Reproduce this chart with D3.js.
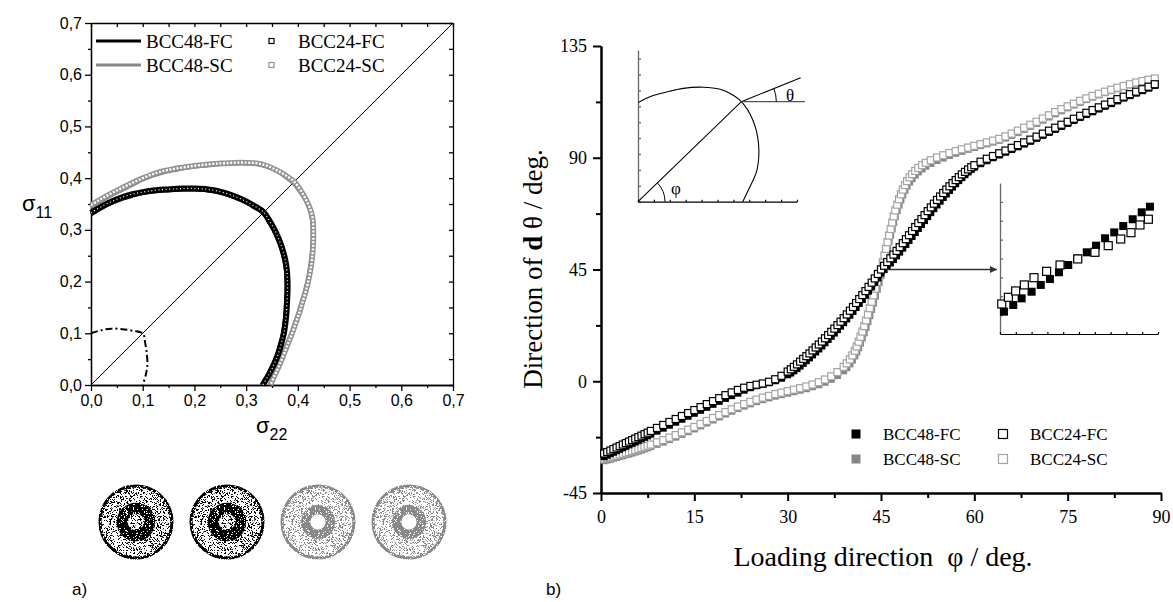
<!DOCTYPE html>
<html>
<head>
<meta charset="utf-8">
<script src="https://cdn.jsdelivr.net/npm/d3@7"></script>
<style>
  body { margin: 0; background: #fff; }
  svg { display: block; }
</style>
</head>
<body>
<svg id="fig" width="1173" height="602"></svg>
<script>
// ---------- panel a) yield curves, (sigma22, sigma11) ----------
const stressTicks = [0, 0.1, 0.2, 0.3, 0.4, 0.5, 0.6, 0.7];
const stressMinor = [0.05, 0.15, 0.25, 0.35, 0.45, 0.55, 0.65];

const bcc48FC = [[0,0.330],[0.02,0.342],[0.04,0.352],[0.06,0.360],[0.08,0.366],[0.10,0.371],[0.12,0.374],[0.14,0.376],[0.16,0.377],[0.18,0.378],[0.20,0.378],[0.22,0.377],[0.24,0.374],[0.26,0.369],[0.28,0.362],[0.30,0.353],[0.315,0.344],[0.333,0.333],[0.344,0.315],[0.353,0.300],[0.362,0.280],[0.369,0.260],[0.374,0.240],[0.377,0.220],[0.378,0.200],[0.378,0.180],[0.377,0.160],[0.376,0.140],[0.374,0.120],[0.371,0.100],[0.366,0.080],[0.360,0.060],[0.352,0.040],[0.342,0.020],[0.330,0]];
const bcc24FC = [[0,0.333],[0.02,0.345],[0.04,0.355],[0.06,0.363],[0.08,0.369],[0.10,0.373],[0.12,0.376],[0.14,0.378],[0.16,0.379],[0.18,0.380],[0.20,0.380],[0.22,0.379],[0.24,0.376],[0.26,0.371],[0.28,0.364],[0.30,0.355],[0.316,0.346],[0.334,0.334],[0.346,0.316],[0.355,0.300],[0.364,0.280],[0.371,0.260],[0.376,0.240],[0.379,0.220],[0.380,0.200],[0.380,0.180],[0.379,0.160],[0.378,0.140],[0.376,0.120],[0.373,0.100],[0.368,0.080],[0.362,0.060],[0.354,0.040],[0.344,0.020],[0.332,0]];
const bcc48SC = [[0,0.343],[0.02,0.355],[0.04,0.366],[0.06,0.376],[0.08,0.386],[0.10,0.396],[0.12,0.404],[0.14,0.410],[0.16,0.414],[0.18,0.418],[0.20,0.421],[0.22,0.423],[0.24,0.425],[0.26,0.426],[0.28,0.427],[0.30,0.427],[0.32,0.426],[0.34,0.421],[0.36,0.412],[0.375,0.402],[0.39,0.39],[0.402,0.375],[0.412,0.36],[0.421,0.34],[0.426,0.32],[0.427,0.30],[0.427,0.28],[0.426,0.26],[0.424,0.24],[0.421,0.22],[0.417,0.20],[0.412,0.18],[0.406,0.16],[0.400,0.14],[0.393,0.12],[0.386,0.10],[0.378,0.08],[0.370,0.06],[0.362,0.04],[0.353,0.02],[0.344,0]];
const bcc24SC = [[0,0.348],[0.02,0.360],[0.04,0.371],[0.06,0.381],[0.08,0.391],[0.10,0.400],[0.12,0.408],[0.14,0.414],[0.16,0.418],[0.18,0.421],[0.20,0.424],[0.22,0.426],[0.24,0.428],[0.26,0.429],[0.28,0.430],[0.30,0.430],[0.32,0.429],[0.34,0.424],[0.36,0.415],[0.377,0.405],[0.393,0.393],[0.405,0.377],[0.415,0.36],[0.424,0.34],[0.429,0.32],[0.430,0.30],[0.430,0.28],[0.429,0.26],[0.427,0.24],[0.424,0.22],[0.420,0.20],[0.415,0.18],[0.409,0.16],[0.403,0.14],[0.396,0.12],[0.389,0.10],[0.381,0.08],[0.373,0.06],[0.365,0.04],[0.356,0.02],[0.347,0]];
const initialSurface = [[0,0.100],[0.02,0.106],[0.04,0.109],[0.06,0.108],[0.08,0.105],[0.10,0.100],[0.105,0.08],[0.108,0.06],[0.109,0.04],[0.106,0.02],[0.100,0]];
const diagonal = [[0, 0], [0.7, 0.7]];

// texture images under panel a): colour, hole left open
const textures = [
  { color: "#000", openHole: false },
  { color: "#000", openHole: false },
  { color: "#888", openHole: true },
  { color: "#888", openHole: true }
];

// ---------- panel b) direction of d vs loading direction ----------
const phiTicks = [0, 15, 30, 45, 60, 75, 90];
const phiMinor = [7.5, 22.5, 37.5, 52.5, 67.5, 82.5];
const thetaTicks = [-45, 0, 45, 90, 135];
const thetaMinor = [-22.5, 22.5, 67.5, 112.5];

// rows: [phi, BCC48-FC, BCC24-FC]
const fcRows = [
  [0.5,-30.4,-29.1],[1,-29.8,-28.5],[1.5,-29.2,-27.9],[2,-28.6,-27.3],[2.5,-28.0,-26.7],[3,-27.4,-26.1],
  [3.5,-26.8,-25.5],[4,-26.2,-24.9],[4.5,-25.6,-24.3],[5,-25.0,-23.7],[5.5,-24.4,-23.1],[6,-23.8,-22.5],
  [6.5,-23.2,-21.9],[7,-22.6,-21.3],[7.5,-22.0,-20.7],[8,-21.3,-20.0],[9,-20.1,-18.8],[10,-18.9,-17.6],
  [11,-17.7,-16.4],[12,-16.5,-15.2],[13,-15.3,-14.0],[14,-14.1,-12.8],[15,-12.9,-11.6],[16,-11.7,-10.4],
  [17,-10.5,-9.2],[18,-9.3,-8.0],[19,-8.1,-6.8],[20,-6.9,-5.6],[21,-5.8,-4.5],[22,-4.8,-3.5],
  [23,-3.6,-2.6],[24,-2.6,-1.9],[25,-1.8,-1.4],[26,-1.2,-0.9],[27,-0.6,-0.2],[28,0.2,0.8],
  [29,1.2,2.2],[30,2.6,3.9],[30.5,3.3,4.8],[31,4.2,5.8],[31.5,5.1,6.8],[32,6.1,7.9],
  [32.5,7.2,9.0],[33,8.3,10.1],[33.5,9.4,11.2],[34,10.6,12.4],[34.5,11.8,13.6],[35,13.0,14.8],
  [35.5,14.2,16.0],[36,15.5,17.3],[36.5,16.8,18.6],[37,18.1,19.9],[37.5,19.4,21.2],[38,20.8,22.6],
  [38.5,22.2,24.0],[39,23.6,25.4],[39.5,25.1,26.9],[40,26.6,28.4],[40.5,28.1,29.9],[41,29.7,31.5],
  [41.5,31.3,33.1],[42,32.9,34.7],[42.5,34.6,36.3],[43,36.3,38.0],[43.5,38.0,39.7],[44,39.8,41.4],
  [44.5,41.6,43.2],[45,43.6,45.0],[45.5,45.0,46.5],[46,46.3,48.0],[46.5,47.6,49.5],[47,49.0,51.0],
  [47.5,50.5,52.5],[48,52.0,54.0],[48.5,53.6,55.6],[49,55.1,57.2],[49.5,56.7,58.8],[50,58.3,60.5],
  [50.5,59.9,62.1],[51,61.5,63.7],[51.5,63.1,65.3],[52,64.7,66.9],[52.5,66.3,68.5],[53,67.9,70.0],
  [53.5,69.5,71.5],[54,71.0,73.0],[54.5,72.5,74.4],[55,74.0,75.8],[55.5,75.4,77.2],[56,76.8,78.5],
  [56.5,78.2,79.8],[57,79.5,81.0],[57.5,80.8,82.2],[58,82.0,83.3],[58.5,83.2,84.3],[59,84.3,85.3],
  [59.5,85.3,86.2],[60,86.2,87.0],[61,87.6,88.4],[62,88.8,89.6],[63,90.0,90.7],[64,91.1,91.8],
  [65,92.2,92.9],[66,93.3,94.0],[67,94.4,95.1],[68,95.5,96.2],[69,96.6,97.3],[70,97.8,98.5],
  [71,99.0,99.7],[72,100.2,100.9],[73,101.4,102.1],[74,102.6,103.3],[75,103.8,104.5],[76,105.0,105.7],
  [77,106.2,106.9],[78,107.4,108.1],[79,108.5,109.2],[80,109.6,110.3],[81,110.7,111.4],[82,111.8,112.5],
  [83,112.9,113.6],[84,114.0,114.6],[85,115.0,115.6],[86,116.0,116.6],[87,117.0,117.6],[88,118.0,118.6],
  [89,119.1,119.6]
];

// rows: [phi, BCC48-SC, BCC24-SC]
const scRows = [
  [0.5,-32.0,-31.2],[1,-31.7,-30.9],[1.5,-31.4,-30.6],[2,-31.0,-30.2],[2.5,-30.7,-29.9],[3,-30.3,-29.5],
  [3.5,-30.0,-29.2],[4,-29.6,-28.8],[4.5,-29.3,-28.5],[5,-28.9,-28.1],[5.5,-28.5,-27.7],[6,-28.1,-27.3],
  [6.5,-27.7,-26.9],[7,-27.2,-26.4],[7.5,-26.8,-26.0],[8,-26.3,-25.5],[9,-25.4,-24.6],[10,-24.5,-23.7],
  [11,-23.5,-22.7],[12,-22.5,-21.7],[13,-21.4,-20.6],[14,-20.3,-19.5],[15,-19.2,-18.4],[16,-18.0,-17.2],
  [17,-16.8,-16.0],[18,-15.6,-14.8],[19,-14.4,-13.6],[20,-13.2,-12.4],[21,-12.1,-11.3],[22,-11.0,-10.2],
  [23,-10.0,-9.2],[24,-9.1,-8.3],[25,-8.2,-7.4],[26,-7.4,-6.6],[27,-6.7,-5.9],[28,-6.0,-5.2],
  [29,-5.4,-4.6],[30,-4.8,-4.0],[31,-4.2,-3.4],[32,-3.6,-2.8],[33,-3.0,-2.1],[34,-2.2,-1.3],
  [35,-1.4,-0.4],[36,-0.4,0.7],[37,0.8,2.0],[38,2.3,3.7],[39,4.2,5.8],[39.5,5.5,7.2],
  [40,7.0,8.8],[40.4,8.5,10.4],[40.8,10.2,12.3],[41.1,11.8,14.0],[41.4,13.5,15.9],[41.7,15.4,17.9],
  [42.0,17.4,20.0],[42.3,19.5,22.2],[42.6,21.7,24.5],[42.9,24.0,26.9],[43.2,26.4,29.4],[43.5,28.9,32.0],
  [43.8,31.5,34.6],[44.1,34.2,37.3],[44.4,37.0,40.0],[44.7,39.8,42.6],[45.0,42.6,45.2],[45.3,45.4,47.9],
  [45.55,48.1,50.6],[45.8,50.8,53.3],[46.05,53.5,56.0],[46.3,56.2,58.7],[46.55,58.8,61.3],[46.8,61.4,63.9],
  [47.05,63.9,66.4],[47.3,66.3,68.8],[47.6,68.7,71.1],[47.9,70.9,73.3],[48.2,73.0,75.3],[48.5,75.0,77.2],
  [48.85,76.9,79.0],[49.2,78.6,80.6],[49.6,80.2,82.1],[50.0,81.6,83.4],[50.5,83.0,84.7],[51.0,84.3,85.9],
  [51.6,85.5,87.0],[52.2,86.6,88.0],[53,87.7,89.0],[54,88.9,90.1],[55,89.9,91.0],[56,90.9,91.9],
  [57,91.8,92.7],[58,92.6,93.4],[59,93.4,94.1],[60,94.1,94.8],[61,94.9,95.5],[62,95.6,96.2],
  [63,96.3,96.9],[64,97.0,97.6],[65,97.9,98.6],[66,99.0,99.7],[67,100.2,100.9],[68,101.4,102.1],
  [69,102.6,103.3],[70,103.8,104.5],[71,105.1,105.8],[72,106.4,107.1],[73,107.7,108.4],[74,108.9,109.6],
  [75,110.1,110.7],[76,111.2,111.8],[77,112.3,112.9],[78,113.4,113.9],[79,114.4,114.9],[80,115.3,115.8],
  [81,116.2,116.6],[82,117.0,117.4],[83,117.8,118.2],[84,118.6,118.9],[85,119.3,119.6],[86,120.0,120.3],
  [87,120.6,120.9],[88,121.1,121.4],[89,121.6,121.9]
];

// sketch inset (unit box): yield curve, loading point, direction d
const sketchCurve = [[0,0.623],[0.075,0.66],[0.18,0.69],[0.285,0.713],[0.41,0.72],[0.516,0.707],[0.58,0.68],[0.65,0.629],[0.722,0.514],[0.758,0.365],[0.748,0.198],[0.694,0.073],[0.659,0]];
const sketchPoint = [0.65, 0.629];
const sketchDirEnd = [1.023, 0.78];

// zoom inset near phi = 45 (unit box)
const zoomFilled = [[0.025,0.148],[0.084,0.192],[0.137,0.236],[0.2,0.28],[0.258,0.325],[0.316,0.364],[0.373,0.409],[0.432,0.457],[0.49,0.5],[0.549,0.541],[0.608,0.585],[0.665,0.634],[0.723,0.673],[0.78,0.715],[0.84,0.76],[0.897,0.806],[0.949,0.843]];
const zoomOpen = [[0.011,0.199],[0.053,0.243],[0.099,0.285],[0.154,0.325],[0.215,0.373],[0.295,0.415],[0.38,0.457],[0.492,0.497],[0.601,0.541],[0.685,0.585],[0.764,0.629],[0.829,0.671],[0.886,0.722],[0.939,0.76]];
const arrowFrom = [45.9, 45];

const SANS = "'Liberation Sans', Arial, sans-serif";
const SERIF = "'Liberation Serif', 'Times New Roman', serif";

const svg = d3.select("#fig");
const defs = svg.append("defs");

// ---------- panel a ----------
const xL = d3.scaleLinear().domain([0, 0.7]).range([91, 453]);
const yL = d3.scaleLinear().domain([0, 0.7]).range([385, 23]);
const comma = d => d.toFixed(1).replace(".", ",");
const gA = svg.append("g");

function styleAxis(g, font, size, width) {
  g.attr("font-family", font).attr("font-size", size);
  g.selectAll("path.domain").attr("stroke-width", width);
  g.selectAll(".tick line").attr("stroke-width", width);
  g.selectAll("text").attr("fill", "#000");
}

gA.append("g").attr("transform", "translate(0,385)")
  .call(d3.axisBottom(xL).tickValues(stressMinor).tickSize(3).tickSizeOuter(0).tickFormat(""))
  .call(g => styleAxis(g, SANS, 16, 1.3));
gA.append("g").attr("transform", "translate(0,385)")
  .call(d3.axisBottom(xL).tickValues(stressTicks).tickSize(6).tickSizeOuter(0).tickPadding(4).tickFormat(comma))
  .call(g => styleAxis(g, SANS, 16, 1.3));
gA.append("g").attr("transform", "translate(91,0)")
  .call(d3.axisLeft(yL).tickValues(stressMinor).tickSize(3).tickSizeOuter(0).tickFormat(""))
  .call(g => styleAxis(g, SANS, 16, 1.3));
gA.append("g").attr("transform", "translate(91,0)")
  .call(d3.axisLeft(yL).tickValues(stressTicks).tickSize(6).tickSizeOuter(0).tickPadding(3).tickFormat(comma))
  .call(g => styleAxis(g, SANS, 16, 1.3));
gA.append("g").attr("transform", "translate(0,23)")
  .call(d3.axisTop(xL).tickValues(stressTicks.concat(stressMinor)).tickSize(-4).tickSizeOuter(0).tickFormat(""))
  .call(g => styleAxis(g, SANS, 16, 1.3));
gA.append("g").attr("transform", "translate(453,0)")
  .call(d3.axisRight(yL).tickValues(stressTicks.concat(stressMinor)).tickSize(-4).tickSizeOuter(0).tickFormat(""))
  .call(g => styleAxis(g, SANS, 16, 1.3));

const lineL = d3.line().x(d => xL(d[0])).y(d => yL(d[1])).curve(d3.curveCatmullRom);

gA.append("path").attr("d", d3.line().x(d => xL(d[0])).y(d => yL(d[1]))(diagonal))
  .attr("fill", "none").attr("stroke", "#000").attr("stroke-width", 1);
gA.append("path").attr("d", lineL(initialSurface))
  .attr("fill", "none").attr("stroke", "#000").attr("stroke-width", 2)
  .attr("stroke-dasharray", "7,3,2,3");

// BCC48-SC line + BCC24-SC squares
gA.append("path").attr("d", lineL(bcc48SC)).attr("fill", "none")
  .attr("stroke", "#888").attr("stroke-width", 3);
gA.append("path").attr("d", lineL(bcc24SC)).attr("fill", "none")
  .attr("stroke", "#929292").attr("stroke-width", 5.5);
gA.append("path").attr("d", lineL(bcc24SC)).attr("fill", "none")
  .attr("stroke", "#fff").attr("stroke-width", 2.4).attr("stroke-dasharray", "2,1.6");

// BCC48-FC line + BCC24-FC squares
gA.append("path").attr("d", lineL(bcc48FC)).attr("fill", "none")
  .attr("stroke", "#000").attr("stroke-width", 4);
gA.append("path").attr("d", lineL(bcc24FC)).attr("fill", "none")
  .attr("stroke", "#000").attr("stroke-width", 6);
gA.append("path").attr("d", lineL(bcc24FC)).attr("fill", "none")
  .attr("stroke", "#fff").attr("stroke-width", 1.2).attr("stroke-dasharray", "1,2.6");

// legend a
const legA = gA.append("g").attr("font-family", SERIF).attr("font-size", 19);
[["BCC48-FC", "#000", 41], ["BCC48-SC", "#888", 65]].forEach(([t, c, y]) => {
  legA.append("line").attr("x1", 96).attr("x2", 141).attr("y1", y).attr("y2", y)
    .attr("stroke", c).attr("stroke-width", 3);
  legA.append("text").attr("x", 146).attr("y", y + 7).text(t);
});
[["BCC24-FC", "#000", 41], ["BCC24-SC", "#929292", 65]].forEach(([t, c, y]) => {
  legA.append("rect").attr("x", 269).attr("y", y - 2.5).attr("width", 5).attr("height", 5)
    .attr("fill", "#fff").attr("stroke", c).attr("stroke-width", 1.2);
  legA.append("text").attr("x", 298).attr("y", y + 7).text(t);
});

// axis titles a
const s11 = gA.append("text").attr("x", 22).attr("y", 211).attr("font-family", SANS).attr("font-size", 22);
s11.append("tspan").text("σ");
s11.append("tspan").attr("font-size", 16).attr("dy", 7).text("11");
const s22 = gA.append("text").attr("x", 256).attr("y", 433).attr("font-family", SANS).attr("font-size", 22);
s22.append("tspan").text("σ");
s22.append("tspan").attr("font-size", 16).attr("dy", 7).text("22");

// stipple filters for the texture discs
function stipple(id, cut, seed) {
  const f = defs.append("filter").attr("id", id).attr("filterUnits", "userSpaceOnUse")
    .attr("x", -45).attr("y", -45).attr("width", 90).attr("height", 90);
  f.append("feTurbulence").attr("type", "fractalNoise").attr("baseFrequency", 1.7)
    .attr("numOctaves", 1).attr("seed", seed).attr("result", "noise");
  f.append("feColorMatrix").attr("in", "noise").attr("type", "matrix")
    .attr("values", `0 0 0 0 0  0 0 0 0 0  0 0 0 0 0  40 0 0 0 ${-40 * cut}`)
    .attr("result", "mask");
  f.append("feComposite").attr("in", "SourceGraphic").attr("in2", "mask").attr("operator", "in");
}
stipple("stLight", 0.55, 3);
stipple("stDark", 0.38, 7);

const discX = d3.scalePoint().domain(d3.range(textures.length)).range([136, 409]);
textures.forEach((t, i) => {
  const g = gA.append("g").attr("transform", `translate(${discX(i)},522)`);
  g.append("circle").attr("r", 37.5).attr("fill", t.color).attr("filter", "url(#stLight)");
  g.append("circle").attr("r", 36).attr("fill", "none").attr("stroke", t.color)
    .attr("stroke-width", 3).attr("filter", "url(#stDark)");
  if (t.openHole) {
    g.append("circle").attr("r", 12.3).attr("fill", "none").attr("stroke", t.color)
      .attr("stroke-width", 9.5).attr("filter", "url(#stDark)");
    g.append("circle").attr("r", 7.5).attr("fill", "#fff");
  } else {
    g.append("circle").attr("r", 13.8).attr("fill", "none").attr("stroke", t.color)
      .attr("stroke-width", 11).attr("filter", "url(#stDark)");
  }
});

svg.append("text").attr("x", 72).attr("y", 595).attr("font-family", SANS).attr("font-size", 17).text("a)");

// ---------- panel b ----------
const xR = d3.scaleLinear().domain([0, 90]).range([601, 1161]);
const yR = d3.scaleLinear().domain([-45, 135]).range([493, 46]);
const gB = svg.append("g");
const plain = d => String(d);

gB.append("g").attr("transform", "translate(0,493)")
  .call(d3.axisBottom(xR).tickValues(phiMinor).tickSize(5).tickSizeOuter(0).tickFormat(""))
  .call(g => styleAxis(g, SERIF, 18, 2));
gB.append("g").attr("transform", "translate(0,493)")
  .call(d3.axisBottom(xR).tickValues(phiTicks).tickSize(8).tickSizeOuter(0).tickPadding(9).tickFormat(plain))
  .call(g => styleAxis(g, SERIF, 18, 2));
gB.append("g").attr("transform", "translate(601,0)")
  .call(d3.axisLeft(yR).tickValues(thetaMinor).tickSize(5).tickSizeOuter(0).tickFormat(""))
  .call(g => styleAxis(g, SERIF, 18, 2));
gB.append("g").attr("transform", "translate(601,0)")
  .call(d3.axisLeft(yR).tickValues(thetaTicks).tickSize(8).tickSizeOuter(0).tickPadding(6).tickFormat(plain))
  .call(g => styleAxis(g, SERIF, 18, 2));

const ms = 7;
function squares(rows, col, fill, stroke, sw) {
  gB.append("g").selectAll("rect").data(rows).join("rect")
    .attr("x", d => xR(d[0]) - ms / 2).attr("y", d => yR(d[col]) - ms / 2)
    .attr("width", ms).attr("height", ms)
    .attr("fill", fill).attr("stroke", stroke).attr("stroke-width", sw);
}
squares(scRows, 1, "#858585", "none", 0);
squares(scRows, 2, "#fff", "#a3a3a3", 1.2);
squares(fcRows, 1, "#000", "none", 0);
squares(fcRows, 2, "#fff", "#000", 1.2);

// legend b
const legB = gB.append("g").attr("font-family", SERIF).attr("font-size", 17);
[
  { x: 856, y: 434, fill: "#000", stroke: "none", t: "BCC48-FC" },
  { x: 1003, y: 434, fill: "#fff", stroke: "#000", t: "BCC24-FC" },
  { x: 856, y: 459, fill: "#858585", stroke: "none", t: "BCC48-SC" },
  { x: 1003, y: 459, fill: "#fff", stroke: "#a3a3a3", t: "BCC24-SC" }
].forEach(d => {
  legB.append("rect").attr("x", d.x - 4.5).attr("y", d.y - 4.5).attr("width", 9).attr("height", 9)
    .attr("fill", d.fill).attr("stroke", d.stroke).attr("stroke-width", 1.2);
  legB.append("text").attr("x", d.x + 27).attr("y", d.y + 6).text(d.t);
});

// axis titles b
gB.append("text").attr("x", 883).attr("y", 566).attr("text-anchor", "middle")
  .attr("font-family", SERIF).attr("font-size", 28).attr("xml:space", "preserve")
  .text("Loading direction  φ / deg.");
const yt = gB.append("text").attr("transform", "translate(542,269) rotate(-90)")
  .attr("text-anchor", "middle").attr("font-family", SERIF).attr("font-size", 27);
yt.append("tspan").text("Direction of ");
yt.append("tspan").attr("font-weight", "bold").text("d");
yt.append("tspan").text(" θ / deg.");

svg.append("text").attr("x", 546).attr("y", 595).attr("font-family", SANS).attr("font-size", 17).text("b)");

// sketch inset
const uS = d3.scaleLinear().domain([0, 1]).range([638, 797]);
const vS = d3.scaleLinear().domain([0, 1]).range([201.7, 42.7]);
const gS = gB.append("g");
gS.append("g").attr("transform", "translate(638,0)")
  .call(d3.axisLeft(vS.copy().domain([0, 0.954]).range([201.7, 50])).ticks(10).tickSize(-3).tickSizeOuter(0).tickFormat(""))
  .call(g => g.selectAll("path,line").attr("stroke", "#666").attr("stroke-width", 1.3));
gS.append("g").attr("transform", "translate(0,201.7)")
  .call(d3.axisBottom(uS).ticks(10).tickSize(-2).tickSizeOuter(0).tickFormat(""))
  .call(g => g.selectAll("path,line").attr("stroke", "#000").attr("stroke-width", 1.2));
gS.append("path").attr("d", d3.line().x(d => uS(d[0])).y(d => vS(d[1])).curve(d3.curveCatmullRom)(sketchCurve))
  .attr("fill", "none").attr("stroke", "#000").attr("stroke-width", 1.1);
const straight = d3.line().x(d => uS(d[0])).y(d => vS(d[1]));
gS.append("path").attr("d", straight([[0, 0], sketchPoint, sketchDirEnd]))
  .attr("fill", "none").attr("stroke", "#000").attr("stroke-width", 1.1);
gS.append("path").attr("d", straight([sketchPoint, [1.05, sketchPoint[1]]]))
  .attr("fill", "none").attr("stroke", "#555").attr("stroke-width", 1.3);
function angleArc(c, end, r) {
  const cx = uS(c[0]), cy = vS(c[1]);
  const a = Math.atan2(vS(end[1]) - cy, uS(end[0]) - cx);
  const p = d3.path();
  p.moveTo(cx + r, cy);
  p.arc(cx, cy, r, 0, a, true);
  return p.toString();
}
gS.append("path").attr("d", angleArc([0, 0], sketchPoint, 27)).attr("fill", "none").attr("stroke", "#000").attr("stroke-width", 1);
gS.append("path").attr("d", angleArc(sketchPoint, sketchDirEnd, 35)).attr("fill", "none").attr("stroke", "#000").attr("stroke-width", 1);
gS.append("text").attr("x", 671).attr("y", 194).attr("font-family", SERIF).attr("font-size", 17).text("φ");
gS.append("text").attr("x", 786).attr("y", 101).attr("font-family", SERIF).attr("font-size", 17).text("θ");

// zoom inset
const uZ = d3.scaleLinear().domain([0, 1]).range([1000, 1158]);
const vZ = d3.scaleLinear().domain([0, 1]).range([334, 183]);
const gZ = gB.append("g");
gZ.append("g").attr("transform", "translate(1000,0)")
  .call(d3.axisLeft(vZ).tickValues([0.125, 0.25, 0.375, 0.5, 0.625, 0.75, 0.875]).tickSize(-3).tickSizeOuter(0).tickFormat(""))
  .call(g => g.selectAll("path,line").attr("stroke", "#666").attr("stroke-width", 1.3));
gZ.append("g").attr("transform", "translate(0,334)")
  .call(d3.axisBottom(uZ).ticks(10).tickSize(-2).tickSizeOuter(0).tickFormat(""))
  .call(g => g.selectAll("path,line").attr("stroke", "#000").attr("stroke-width", 1.2));
gZ.append("g").selectAll("rect").data(zoomFilled).join("rect")
  .attr("x", d => uZ(d[0]) - 4).attr("y", d => vZ(d[1]) - 4).attr("width", 8).attr("height", 8).attr("fill", "#000");
gZ.append("g").selectAll("rect").data(zoomOpen).join("rect")
  .attr("x", d => uZ(d[0]) - 4).attr("y", d => vZ(d[1]) - 4).attr("width", 8).attr("height", 8)
  .attr("fill", "#fff").attr("stroke", "#000").attr("stroke-width", 1.2);

defs.append("marker").attr("id", "arrowHead").attr("viewBox", "0 0 10 10").attr("refX", 10).attr("refY", 5)
  .attr("markerWidth", 9).attr("markerHeight", 7).attr("markerUnits", "userSpaceOnUse").attr("orient", "auto")
  .append("path").attr("d", "M0,0L10,5L0,10Z").attr("fill", "#333");
gB.append("line").attr("x1", xR(arrowFrom[0])).attr("y1", yR(arrowFrom[1]))
  .attr("x2", uZ(0) - 3).attr("y2", yR(arrowFrom[1]))
  .attr("stroke", "#333").attr("stroke-width", 1.3).attr("marker-end", "url(#arrowHead)");
</script>
</body>
</html>
